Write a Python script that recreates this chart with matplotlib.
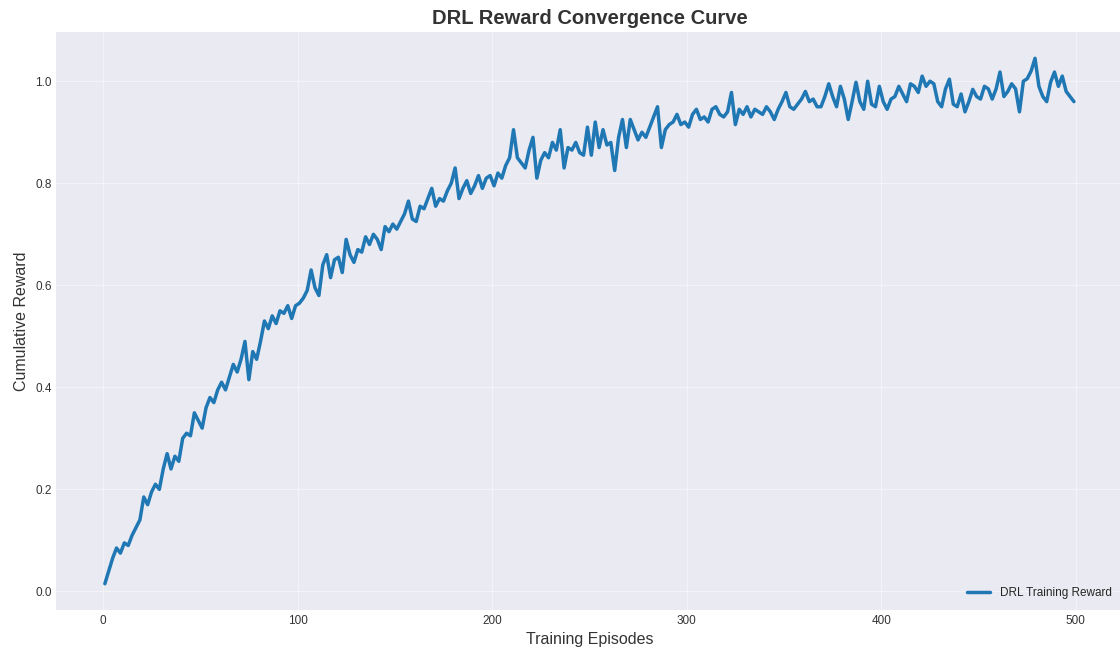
import numpy as np
import matplotlib
matplotlib.use("Agg")
import matplotlib.pyplot as plt

plt.style.use("seaborn-v0_8-darkgrid")
plt.rcParams['font.family'] = ['Liberation Sans', 'DejaVu Sans']

episodes = list(range(1, 500, 2))
reward = [
    0.015, 0.040, 0.065, 0.085, 0.075, 0.095, 0.090, 0.110, 0.125, 0.140,
    0.185, 0.170, 0.195, 0.210, 0.200, 0.240, 0.270, 0.240, 0.265, 0.255,
    0.300, 0.310, 0.305, 0.350, 0.335, 0.320, 0.360, 0.380, 0.370, 0.395,
    0.410, 0.395, 0.420, 0.445, 0.430, 0.455, 0.490, 0.415, 0.470, 0.455,
    0.490, 0.530, 0.515, 0.540, 0.525, 0.550, 0.545, 0.560, 0.535, 0.560,
    0.565, 0.575, 0.590, 0.630, 0.595, 0.580, 0.640, 0.660, 0.615, 0.650,
    0.655, 0.625, 0.690, 0.660, 0.645, 0.670, 0.665, 0.695, 0.680, 0.700,
    0.690, 0.670, 0.715, 0.705, 0.720, 0.710, 0.725, 0.740, 0.765, 0.730,
    0.725, 0.755, 0.750, 0.770, 0.790, 0.755, 0.770, 0.765, 0.785, 0.800,
    0.830, 0.770, 0.790, 0.805, 0.780, 0.795, 0.815, 0.790, 0.810, 0.815,
    0.795, 0.820, 0.810, 0.835, 0.850, 0.905, 0.850, 0.840, 0.830, 0.865,
    0.890, 0.810, 0.845, 0.860, 0.850, 0.880, 0.865, 0.905, 0.830, 0.870,
    0.865, 0.880, 0.860, 0.855, 0.910, 0.855, 0.920, 0.870, 0.905, 0.875,
    0.880, 0.825, 0.890, 0.925, 0.870, 0.925, 0.905, 0.885, 0.900, 0.890,
    0.910, 0.930, 0.950, 0.870, 0.905, 0.915, 0.920, 0.935, 0.915, 0.920,
    0.910, 0.935, 0.945, 0.925, 0.930, 0.920, 0.945, 0.950, 0.935, 0.930,
    0.940, 0.978, 0.915, 0.945, 0.935, 0.950, 0.930, 0.945, 0.940, 0.935,
    0.950, 0.940, 0.925, 0.945, 0.960, 0.978, 0.950, 0.945, 0.955, 0.965,
    0.980, 0.960, 0.965, 0.950, 0.950, 0.970, 0.995, 0.970, 0.950, 0.990,
    0.965, 0.925, 0.960, 0.998, 0.960, 0.945, 1.000, 0.955, 0.950, 0.990,
    0.960, 0.945, 0.965, 0.970, 0.990, 0.975, 0.960, 0.995, 0.990, 0.978,
    1.010, 0.990, 1.000, 0.995, 0.960, 0.950, 0.985, 1.004, 0.955, 0.950,
    0.975, 0.940, 0.960, 0.984, 0.970, 0.965, 0.990, 0.985, 0.965, 0.985,
    1.018, 0.970, 0.980, 0.995, 0.985, 0.940, 1.000, 1.005, 1.020, 1.045,
    0.990, 0.970, 0.960, 0.998, 1.018, 0.990, 1.010, 0.980, 0.970, 0.960,
]

fig = plt.figure(figsize=(11.2, 6.5), dpi=100)
ax = fig.add_axes([56.4 / 1120, 40 / 650, 1066 / 1120, 578 / 650])
ax.plot(episodes, reward, color="#1f77b4", linewidth=2.5, label="DRL Training Reward")
ax.set_title("DRL Reward Convergence Curve", fontsize=14.5, fontweight="bold", color="#333333")
ax.set_xlabel("Training Episodes", fontsize=11.5, color="#333333")
ax.set_ylabel("Cumulative Reward", fontsize=11.5, color="#333333")
ax.tick_params(labelsize=8.5, colors="#333333")
ax.grid(True, color="white", alpha=0.45)
ax.legend(loc="lower right", fontsize=8.5)
fig.savefig("out.png", dpi=100)
